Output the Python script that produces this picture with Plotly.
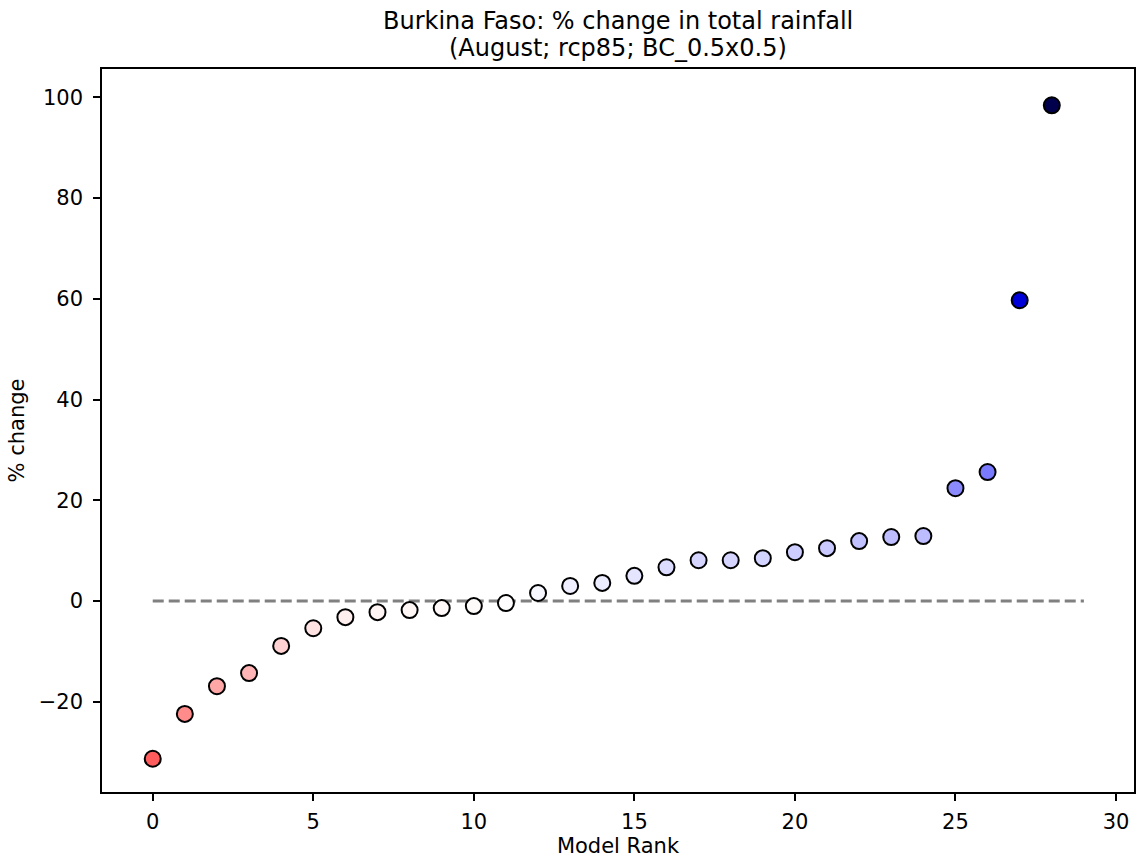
import plotly.graph_objects as go

ranks = list(range(29))
pct_change = [-31.3, -22.4, -16.9, -14.3, -8.9, -5.4, -3.2, -2.2, -1.8, -1.4,
              -1.0, -0.4, 1.6, 3.0, 3.6, 5.0, 6.7, 8.1, 8.1, 8.5,
              9.7, 10.5, 11.9, 12.7, 12.9, 22.4, 25.6, 59.7, 98.4]

title_line1 = "Burkina Faso: % change in total rainfall"
title_line2 = "(August; rcp85; BC_0.5x0.5)"
x_label = "Model Rank"
y_label = "% change"

# matplotlib 'seismic_r'
seismic_r = [[0.0, "rgb(128,0,0)"], [0.25, "rgb(255,0,0)"], [0.5, "rgb(255,255,255)"],
             [0.75, "rgb(0,0,255)"], [1.0, "rgb(0,0,77)"]]
vmax = max(abs(v) for v in pct_change)

fig = go.Figure()
fig.add_trace(go.Scatter(
    x=[0, len(pct_change)], y=[0, 0], mode="lines",
    line=dict(color="rgb(128,128,128)", width=3, dash="11px,5px"),
    hoverinfo="skip", showlegend=False))
fig.add_trace(go.Scatter(
    x=ranks, y=pct_change, mode="markers",
    marker=dict(size=16, color=pct_change, colorscale=seismic_r, cmin=-vmax, cmax=vmax,
                line=dict(color="black", width=2)),
    showlegend=False))

font = "DejaVu Sans, sans-serif"
fig.update_layout(
    width=1136, height=861,
    margin=dict(l=102, r=2, t=69, b=69),
    paper_bgcolor="white", plot_bgcolor="white",
    font=dict(family=font, size=21, color="black"),
    annotations=[
        dict(text=title_line1, xref="paper", yref="paper", x=0.5, y=1, xanchor="center",
             yanchor="bottom", yshift=32, showarrow=False, font=dict(size=24)),
        dict(text=title_line2, xref="paper", yref="paper", x=0.5, y=1, xanchor="center",
             yanchor="bottom", yshift=5, showarrow=False, font=dict(size=24)),
    ],
)
fig.update_xaxes(range=[-1.58, 30.56], tickmode="linear", tick0=0, dtick=5,
                 showgrid=False, zeroline=False, showline=True, mirror=True, automargin=False,
                 linecolor="black", linewidth=1.5, ticks="outside", ticklen=7, tickwidth=1.5,
                 tickcolor="black", tickfont=dict(size=21), ticklabelstandoff=3,
                 title=dict(text=x_label, font=dict(size=21), standoff=4))
fig.update_yaxes(range=[-37.9, 105.6], tickmode="linear", tick0=0, dtick=20,
                 showgrid=False, zeroline=False, showline=True, mirror=True, automargin=False,
                 linecolor="black", linewidth=1.5, ticks="outside", ticklen=7, tickwidth=1.5,
                 tickcolor="black", tickfont=dict(size=21), ticklabelstandoff=6,
                 title=dict(text=y_label, font=dict(size=21), standoff=8))

fig.write_html("out.html", config={"displayModeBar": False},
               post_script="document.body.style.margin='0';document.body.style.overflow='hidden';")
